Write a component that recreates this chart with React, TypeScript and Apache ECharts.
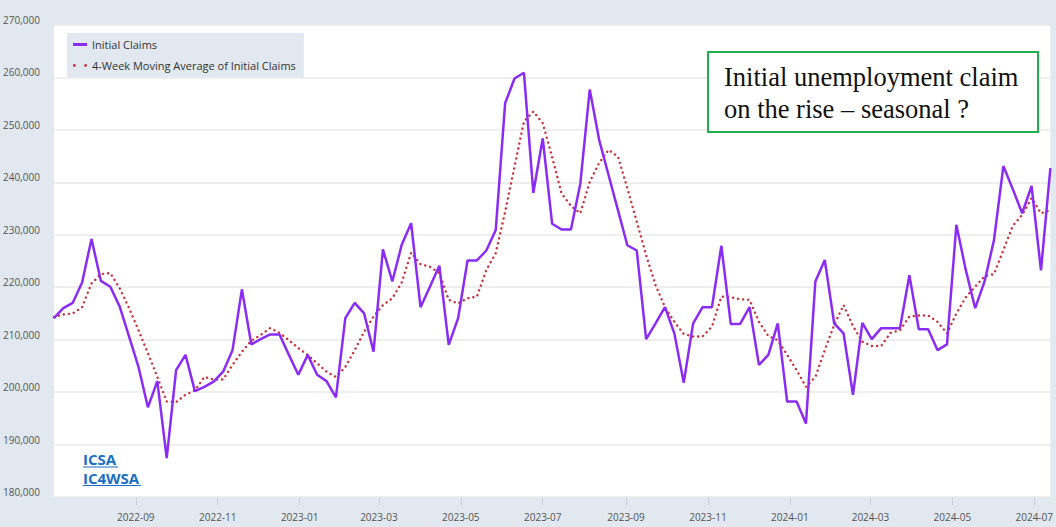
import React, { useEffect, useRef } from "react";
import * as echarts from "echarts";

const START_WEEK = "2022-07-02";
const WEEK_COUNT = 107;

const tickLabels = [
  "2022-09", "2022-11", "2023-01", "2023-03", "2023-05", "2023-07",
  "2023-09", "2023-11", "2024-01", "2024-03", "2024-05", "2024-07",
];

const yTicks = [180000, 190000, 200000, 210000, 220000, 230000, 240000, 250000, 260000, 270000];

const initialClaims = [
  214100, 216000, 217000, 220900, 229200, 221200, 220100, 216300, 210600, 204800,
  197100, 202100, 187400, 204200, 207100, 200200, 201000, 202000, 203900, 208000,
  219600, 209100, 210100, 211000, 211000, 207100, 203300, 207100, 203300, 202100,
  199000, 214100, 217000, 215000, 207700, 227200, 221100, 228100, 232200, 216200,
  220100, 224100, 209000, 214100, 225100, 225100, 227000, 230900, 255100, 259800,
  260900, 238000, 248400, 232100, 231000, 231000, 239800, 257700, 248100, 241400,
  234700, 228000, 227000, 210100, 213100, 216200, 211200, 201800, 213100, 216200,
  216200, 227900, 213000, 213000, 216200, 205200, 207100, 213100, 198200, 198200,
  194000, 221100, 225200, 213100, 211200, 199500, 213200, 210100, 212200, 212200,
  212200, 222300, 212000, 212000, 208000, 209100, 231900, 223300, 216000, 221100,
  229000, 243100, 238700, 234100, 239300, 223200, 242700,
];

const movingAverage = [
  214300, 214800, 215000, 216200, 220700, 222500, 222700, 219800, 216000, 211800,
  207400, 202900, 198200, 198100, 199500, 200300, 202900, 202400, 202400, 205200,
  207700, 209800, 210900, 212200, 211300, 209900, 208400, 207100, 205500, 203900,
  202900, 204800, 208000, 211500, 214400, 216600, 217900, 220900, 226600, 224400,
  223900, 222700, 217600, 216900, 217900, 218200, 223300, 226500, 234400, 243000,
  251600, 253500, 251300, 244800, 237900, 235500, 234100, 240100, 243700, 246200,
  244900, 238900, 232500, 226100, 220400, 216200, 213400, 211100, 210600, 210600,
  212500, 218200, 218100, 217700, 217600, 213400, 210700, 209900, 207100, 204200,
  201000, 202900, 208000, 212800, 216600, 212600, 209600, 208800, 208800, 211300,
  211800, 214400, 214600, 214600, 213400, 211200, 215000, 218100, 220100, 222100,
  222500, 227100, 231700, 233800, 237000, 234100, 234700,
];

const seriesNames = ["Initial Claims", "4-Week Moving Average of Initial Claims"];
const annotationText = "Initial unemployment claim\non the rise – seasonal ?";
const linkLabels = ["ICSA", "IC4WSA"];

const DAY = 86400000;

function weekDates(): number[] {
  const [y, m, d] = START_WEEK.split("-").map(Number);
  const t0 = Date.UTC(y, m - 1, d);
  const out: number[] = [];
  for (let i = 0; i < WEEK_COUNT; i++) out.push(t0 + i * 7 * DAY);
  return out;
}

function tickTime(s: string): number {
  const [y, m] = s.split("-").map(Number);
  return Date.UTC(y, m - 1, 1);
}

function fmtMonth(v: number): string {
  const d = new Date(v);
  const mm = String(d.getUTCMonth() + 1).padStart(2, "0");
  return `${d.getUTCFullYear()}-${mm}`;
}

export default function App() {
  const ref = useRef<HTMLDivElement>(null);

  useEffect(() => {
    if (!ref.current) return;
    const chart = echarts.init(ref.current, undefined, { renderer: "svg" });
    const dates = weekDates();
    const ticks = tickLabels.map(tickTime);
    const bg = "#e1e8f0";

    chart.setOption({
      animation: false,
      backgroundColor: bg,
      textStyle: { fontFamily: "'Open Sans', sans-serif" },
      grid: {
        left: 52,
        right: 2,
        top: 25,
        bottom: 30,
        show: true,
        backgroundColor: "#ffffff",
        borderWidth: 0,
      },
      legend: {
        orient: "vertical",
        left: 67,
        top: 33,
        backgroundColor: bg,
        padding: [6, 8, 6, 6],
        itemGap: 10,
        itemWidth: 14,
        itemHeight: 14,
        symbolKeepAspect: true,
        textStyle: { color: "#333", fontSize: 11, fontFamily: "'Open Sans', sans-serif" },
        data: [
          { name: seriesNames[0], icon: "path://M0,0H14V3H0Z" },
          {
            name: seriesNames[1],
            icon: "path://M0,1a1,1 0 1,0 2,0a1,1 0 1,0 -2,0ZM8,1a1,1 0 1,0 2,0a1,1 0 1,0 -2,0Z",
          },
        ],
      },
      xAxis: {
        type: "value",
        min: dates[0],
        max: dates[dates.length - 1],
        axisLine: { show: false },
        axisTick: {
          show: true,
          length: 8,
          customValues: ticks,
          lineStyle: { color: "#c7d0da", width: 1 },
        },
        axisLabel: {
          customValues: ticks,
          formatter: (v: number) => fmtMonth(v),
          color: "#555",
          fontSize: 10,
          margin: 15,
        },
        splitLine: { show: false },
      },
      yAxis: {
        type: "value",
        min: yTicks[0],
        max: yTicks[yTicks.length - 1],
        interval: 10000,
        axisLine: { show: false },
        axisTick: { show: false },
        axisLabel: {
          color: "#555",
          fontSize: 10,
          margin: 14,
          verticalAlign: "bottom",
          formatter: (v: number) => v.toLocaleString("en-US"),
        },
        splitLine: { show: true, lineStyle: { color: "#e8e8e8", width: 1.5 } },
      },
      series: [
        {
          name: seriesNames[1],
          type: "line",
          symbol: "none",
          data: dates.map((d, i) => [d, movingAverage[i]]),
          lineStyle: { color: "#c8323c", width: 2.4, type: [0.1, 5], cap: "round" },
          itemStyle: { color: "#c8323c" },
          z: 2,
        },
        {
          name: seriesNames[0],
          type: "line",
          symbol: "none",
          data: dates.map((d, i) => [d, initialClaims[i]]),
          lineStyle: { color: "#8b2cf5", width: 2.5 },
          itemStyle: { color: "#8b2cf5" },
          z: 3,
        },
      ],
      graphic: [
        {
          type: "rect",
          shape: { x: 708, y: 52, width: 330, height: 80 },
          style: { fill: "#ffffff", stroke: "#22ad4e", lineWidth: 2 },
          z: 10,
        },
        {
          type: "text",
          x: 724,
          y: 61,
          style: {
            text: annotationText,
            font: "26.5px 'Liberation Serif', 'Times New Roman', serif",
            fill: "#111",
            lineHeight: 32,
            verticalAlign: "top",
          },
          z: 11,
        },
        {
          type: "text",
          x: 83,
          y: 459,
          style: {
            text: linkLabels[0],
            font: "bold 15px 'Open Sans', sans-serif",
            fill: "#1a6fc4",
            lineHeight: 15,
            verticalAlign: "middle",
          },
          z: 11,
        },
        {
          type: "line",
          shape: { x1: 83, y1: 467, x2: 118, y2: 467 },
          style: { stroke: "#1a6fc4", lineWidth: 1.2 },
          z: 11,
        },
        {
          type: "text",
          x: 83,
          y: 477.5,
          style: {
            text: linkLabels[1],
            font: "bold 15px 'Open Sans', sans-serif",
            fill: "#1a6fc4",
            lineHeight: 15,
            verticalAlign: "middle",
          },
          z: 11,
        },
        {
          type: "line",
          shape: { x1: 83, y1: 485.5, x2: 141, y2: 485.5 },
          style: { stroke: "#1a6fc4", lineWidth: 1.2 },
          z: 11,
        },
      ],
    });

    return () => chart.dispose();
  }, []);

  return (
    <div
      ref={ref}
      style={{ position: "absolute", left: 0, top: 0, width: 1056, height: 527 }}
    />
  );
}
